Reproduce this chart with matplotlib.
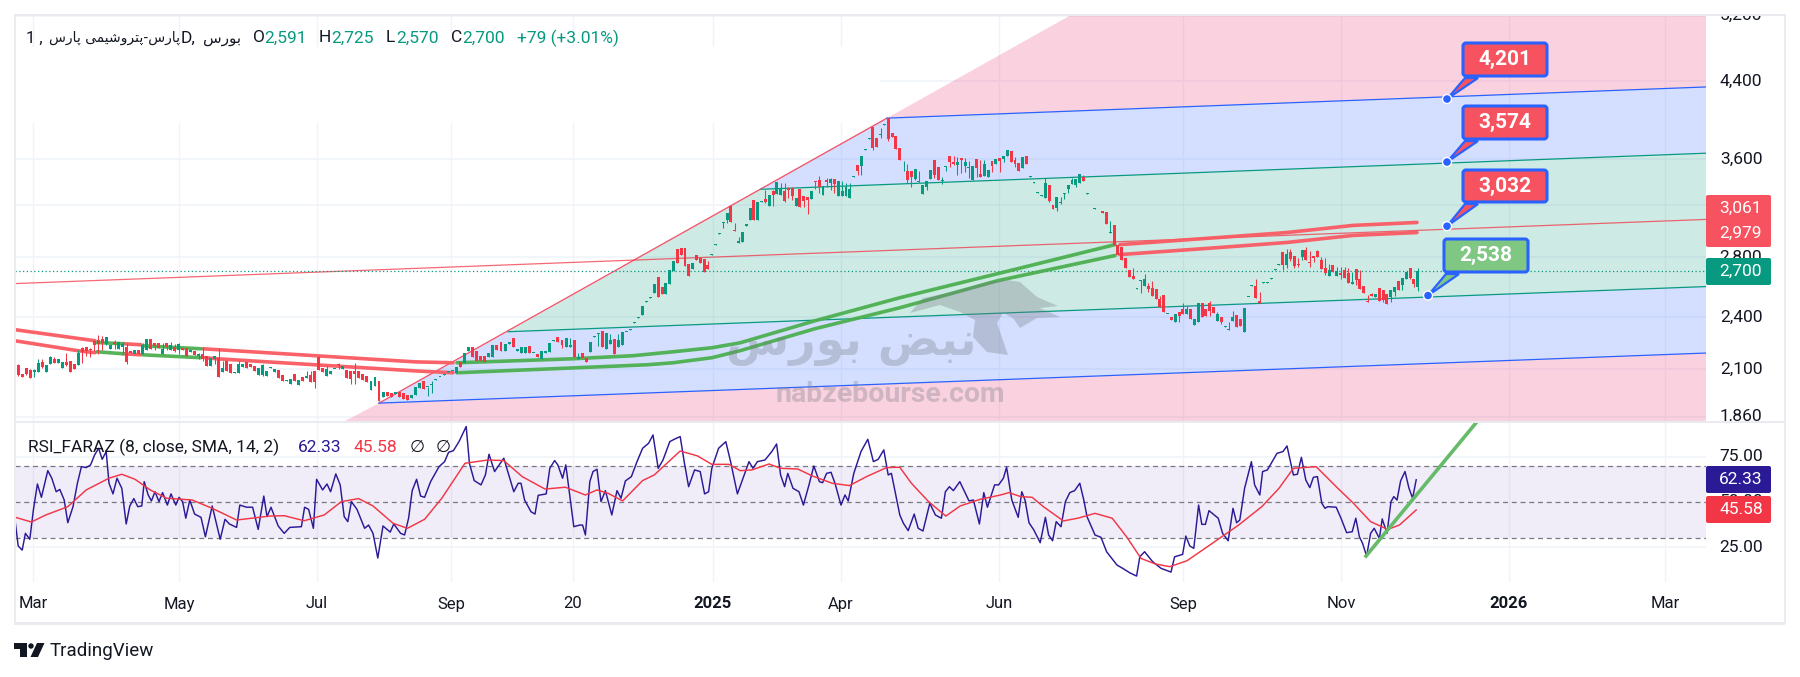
import numpy as np
import matplotlib
matplotlib.use('Agg')
import matplotlib.pyplot as plt
from matplotlib.patches import Rectangle, Polygon, Circle, FancyBboxPatch

plt.rcParams['font.family'] = ['Roboto', 'DejaVu Sans']

UP = '#089981'
DOWN = '#f23645'
TAG_RED = '#f7525f'
BLUE = '#2962ff'
GREEN = '#4caf50'
RSI_COL = '#2a1a96'
TEXT = '#131722'
GRID = '#f0f3fa'
FRAME = '#e9ebf0'

# daily candles
opens = [
    2124,2075,2109,2097,2088,2086,2140,2086,2127,2155,2136,2109,2142,2146,2127,2124,2218,2224,2215,2260,2264,2273,2242,2215,2255,2215,2227,2227,2204,2182,2209,2186,2209,2273,2246,2249,2186,2246,2209,2227,2206,2218,2218,2196,2204,2173,2182,2173,2118,2155,2164,2086,2146,2127,2080,2080,2115,2142,2127,2118,2069,2069,2066,2109,2086,2097,2069,2040,2024,2075,2020,2061,2052,2069,2092,2169,2109,2063,2075,2100,2127,2100,2095,2092,2092,2092,2075,2066,1990,2015,2040,
    1958,1980,1978,1971,1983,1975,1966,1949,1966,2004,2039,2006,2019,2045,2059,2069,2085,2090,2083,2138,2136,2199,2223,2202,2176,2176,2170,2170,2236,2251,2204,2240,2274,2202,2193,2193,2231,2189,2185,2157,2189,2198,2261,2280,2265,2227,2227,2265,2157,2189,2161,2198,2284,2300,2316,2212,2242,2270,2223,2236,2310,2324,2366,2397,2417,2498,2525,2557,2664,2596,2548,2615,2703,2858,2865,2865,2752,2715,2814,2797,2785,2745,2818,2892,2975,3060,3081,3196,2998,2902,
    2910,3030,3081,3242,3081,3229,3248,3193,3318,3293,3284,3318,3342,3342,3193,3332,3276,3265,3251,3405,3413,3284,3413,3385,3418,3278,3276,3276,3262,3443,3548,3538,3690,3790,3914,3804,3835,3935,3998,3854,3820,3709,3490,3490,3496,3420,3397,3293,3350,3423,3596,3532,3405,3532,3630,3570,3548,3610,3538,3517,3413,3605,3467,3449,3443,3587,3557,3615,3600,3630,3678,3596,3563,3523,3634,3443,3390,3304,3278,3256,3370,3202,3175,3220,3293,3336,3380,3370,3390,3443,
    3294,3272,3170,3158,3156,3145,2978,3042,2890,2873,2792,2710,2669,2584,2637,2602,2602,2586,2580,2517,2542,2418,2401,2373,2432,2452,2422,2452,2354,2369,2488,2452,2492,2465,2379,2401,2344,2326,2375,2416,2389,2313,2526,2604,2602,2502,2620,2620,2650,2712,2745,2836,2743,2836,2809,2752,2802,2853,2768,2807,2846,2780,2724,2670,2745,2670,2687,2710,2692,2615,2717,2646,2602,2498,2549,2527,2586,2575,2549,2527,2562,2637,2608,2648,2721,2648,2591,
]
highs = [
    2127,2075,2109,2100,2100,2158,2158,2122,2176,2169,2158,2142,2188,2146,2127,2209,2222,2224,2218,2264,2295,2286,2282,2237,2264,2255,2255,2249,2204,2206,2209,2246,2273,2273,2249,2249,2249,2246,2255,2242,2246,2218,2218,2209,2204,2191,2227,2173,2164,2176,2218,2146,2146,2127,2088,2146,2127,2142,2127,2118,2106,2127,2092,2115,2100,2097,2069,2044,2049,2075,2044,2061,2092,2092,2092,2173,2109,2118,2092,2104,2136,2118,2095,2092,2136,2092,2075,2066,2040,2058,2040,
    1983,1980,1978,1980,1983,1975,1966,1966,2006,2027,2039,2009,2036,2048,2062,2074,2090,2094,2115,2138,2189,2227,2223,2202,2176,2176,2189,2236,2236,2251,2242,2255,2274,2212,2223,2223,2231,2193,2185,2200,2202,2246,2265,2280,2265,2278,2278,2265,2189,2189,2161,2251,2290,2304,2316,2304,2300,2270,2300,2310,2314,2330,2370,2401,2471,2505,2531,2614,2664,2596,2619,2710,2773,2858,2865,2865,2752,2757,2814,2797,2785,2776,2823,2897,2980,3065,3140,3196,3055,2952,
    2990,3050,3175,3242,3223,3235,3327,3284,3327,3393,3385,3385,3356,3350,3256,3332,3276,3265,3318,3408,3450,3361,3428,3428,3418,3405,3405,3385,3385,3449,3548,3630,3696,3800,3914,3804,3897,3941,3998,3854,3820,3709,3587,3554,3496,3511,3496,3370,3408,3502,3596,3532,3443,3538,3630,3630,3624,3610,3610,3587,3541,3605,3596,3596,3502,3587,3600,3615,3630,3687,3678,3618,3563,3618,3634,3449,3396,3310,3284,3428,3370,3202,3265,3265,3299,3370,3428,3420,3467,3458,
    3299,3277,3175,3164,3156,3145,3072,3042,2890,2873,2792,2710,2725,2589,2642,2680,2620,2637,2580,2532,2542,2422,2401,2422,2432,2488,2473,2452,2391,2488,2488,2452,2505,2465,2436,2401,2348,2369,2440,2416,2389,2456,2530,2608,2646,2562,2626,2626,2655,2717,2750,2836,2860,2860,2809,2792,2853,2873,2848,2807,2853,2800,2792,2752,2745,2733,2728,2728,2721,2698,2717,2710,2602,2542,2557,2546,2586,2575,2549,2575,2593,2637,2653,2698,2721,2648,2725,
]
lows = [
    2066,2058,2070,2052,2058,2086,2109,2086,2127,2133,2136,2106,2118,2086,2104,2124,2136,2176,2169,2200,2182,2206,2237,2215,2213,2215,2191,2127,2191,2182,2182,2182,2206,2213,2209,2218,2186,2209,2206,2195,2182,2206,2173,2196,2178,2155,2146,2118,2118,2127,2058,2086,2092,2083,2080,2080,2115,2109,2115,2092,2069,2066,2066,2109,2086,2052,2040,2040,2024,2040,2020,2040,2052,2032,2003,2095,2086,2063,2075,2100,2100,2100,2052,2024,2024,2052,2044,2032,1990,2015,1935,
    1958,1961,1958,1971,1955,1946,1940,1949,1966,2004,1997,1963,1978,2045,2059,2069,2085,2090,2083,2115,2136,2199,2170,2146,2146,2142,2170,2170,2208,2202,2204,2240,2223,2202,2193,2193,2193,2189,2170,2157,2189,2198,2261,2255,2217,2227,2223,2166,2157,2161,2142,2198,2284,2229,2223,2212,2242,2185,2223,2236,2310,2324,2366,2397,2417,2498,2525,2557,2527,2548,2548,2615,2703,2762,2816,2738,2669,2715,2780,2762,2698,2717,2818,2892,2975,3015,3055,3065,2993,2902,
    2910,3030,3081,3081,3081,3229,3220,3193,3193,3293,3284,3229,3256,3240,3193,3188,3188,3129,3251,3339,3300,3284,3350,3327,3299,3278,3276,3276,3262,3443,3458,3458,3690,3790,3687,3718,3797,3935,3775,3814,3696,3596,3490,3390,3356,3413,3397,3293,3327,3423,3428,3413,3380,3496,3532,3548,3458,3473,3487,3428,3413,3443,3443,3449,3443,3487,3557,3487,3570,3630,3573,3532,3496,3523,3554,3443,3390,3304,3278,3256,3229,3170,3153,3210,3248,3299,3380,3350,3390,3408,
    3294,3272,3170,3158,3135,3050,2978,2890,2817,2780,2726,2664,2648,2584,2553,2602,2564,2532,2515,2465,2430,2418,2385,2373,2369,2422,2422,2391,2354,2369,2405,2410,2410,2426,2379,2361,2344,2326,2375,2344,2348,2313,2526,2604,2519,2487,2620,2620,2650,2712,2745,2710,2726,2773,2726,2733,2780,2780,2733,2768,2804,2717,2676,2670,2694,2670,2646,2657,2624,2615,2606,2584,2557,2494,2532,2527,2504,2498,2485,2498,2536,2575,2575,2648,2646,2593,2570,
]
closes = [
    2069,2058,2075,2056,2095,2136,2115,2122,2169,2136,2158,2140,2124,2086,2104,2191,2196,2200,2206,2237,2242,2246,2282,2237,2242,2255,2242,2142,2191,2206,2182,2237,2273,2213,2231,2218,2215,2227,2237,2200,2242,2206,2173,2209,2178,2182,2155,2118,2164,2176,2058,2109,2092,2083,2086,2127,2127,2109,2115,2092,2106,2124,2092,2115,2100,2052,2040,2044,2049,2040,2044,2040,2066,2032,2032,2095,2086,2100,2092,2104,2122,2118,2052,2049,2075,2052,2044,2032,2040,2058,1935,
    1983,1961,1958,1980,1955,1946,1940,1966,2006,2027,1997,2009,2022,2048,2062,2074,2090,2094,2115,2115,2189,2227,2170,2146,2146,2142,2189,2236,2208,2202,2242,2255,2223,2212,2223,2223,2193,2193,2170,2200,2202,2246,2265,2255,2236,2278,2233,2166,2170,2161,2142,2251,2290,2304,2223,2304,2265,2185,2265,2310,2314,2330,2370,2401,2471,2505,2531,2614,2527,2548,2619,2710,2773,2762,2816,2738,2669,2757,2780,2762,2698,2717,2823,2897,2980,3065,3140,3065,2993,2922,
    2990,3050,3175,3081,3223,3235,3229,3284,3284,3393,3332,3237,3327,3276,3256,3188,3237,3242,3318,3400,3350,3361,3400,3420,3380,3405,3318,3353,3336,3449,3493,3630,3696,3800,3709,3718,3842,3941,3792,3814,3696,3596,3496,3413,3437,3511,3405,3370,3408,3502,3458,3413,3413,3538,3570,3557,3578,3596,3570,3532,3541,3517,3443,3557,3502,3538,3600,3587,3630,3687,3573,3557,3496,3618,3554,3449,3396,3310,3284,3385,3237,3170,3265,3226,3299,3370,3413,3420,3467,3408,
    3299,3277,3175,3164,3135,3050,2983,2890,2817,2780,2726,2664,2648,2589,2642,2648,2582,2532,2515,2465,2430,2422,2385,2422,2410,2422,2452,2391,2391,2488,2405,2410,2442,2426,2422,2369,2348,2330,2401,2344,2348,2456,2530,2608,2519,2487,2626,2626,2655,2717,2750,2743,2824,2787,2738,2748,2853,2780,2762,2797,2804,2717,2687,2710,2698,2703,2676,2657,2624,2628,2642,2584,2557,2494,2532,2546,2504,2511,2485,2575,2593,2575,2653,2698,2653,2615,2700,
]

# where some candles sit on the bar axis, the rest fall in between
anchor_rows = [0, 90, 138, 159, 180, 219, 250, 270, 312, 357]
anchor_bars = [0.33, 90.5, 139.3, 160.3, 180.4, 217.8, 247.6, 266.6, 306.8, 350.2]

# thick moving averages: (bars, prices) per coloured stretch
upper_red = [([-0.5,19.5], [2325,2260]), ([26.5,31], [2243,2237]),
             ([46.5,99.5,109], [2214,2141,2136]),
             ([275.75,300.75,317.5,334,350], [2892,2946,2983,3038,3061])]
upper_green = [([19.5,26.5], [2250,2243]), ([31.5,46], [2231,2214]),
               ([110,139,154,164,173.75,180.75,199.5,220.75,245.25,274.5],
                [2136,2158,2175,2197,2220,2248,2379,2524,2685,2892])]
lower_red = [([-0.5,15.25,19.5], [2260,2203,2192]), ([26.5,31], [2186,2180]),
             ([47,50,99.5,109], [2164,2158,2092,2082]),
             ([275.75,300.75,317.5,334,350], [2819,2871,2908,2961,2983])]
lower_green = [([20,26.5], [2197,2186]), ([31.5,46], [2180,2164]),
               ([110,139,157.5,164,173.75,180.75,199.5,220.75,245.25,274.5],
                [2082,2108,2125,2136,2164,2203,2331,2460,2637,2812])]

# pitchfork lines
fork_bars_end = 422.25
fork_top = ([217.5, fork_bars_end], [4000, 4333])
fork_upper = ([186, fork_bars_end], [3333, 3656])
fork_median = ([-0.5, fork_bars_end], [2617, 3085])
fork_lower = ([122.75, fork_bars_end], [2313, 2597])
fork_bottom = ([90.5, fork_bars_end], [1926, 2190])
fork_edge = ([81.5, 263.5], [1835, 5211])

price_ticks = [5200, 4400, 3600, 3200, 2800, 2400, 2100, 1860]
callout_bars = [357.5, 357.5, 357.5, 352.75]
callout_prices = [4201, 3574, 3032, 2538]

date_bars = [4, 40.5, 75, 108.5, 139, 174, 206, 245.5, 291.5, 331, 373, 412]
date_labels = ['Mar', 'May', 'Jul', 'Sep', '20', '2025', 'Apr', 'Jun', 'Sep', 'Nov', '2026', 'Mar']

rsi_bars = [-0.4,0.3,1.3,2.1,3.2,4.1,5.1,6.1,7.7,8.7,9.8,10.7,11.8,12.7,14,15.1,16.1,17.3,18.4,19.4,20.4,21.3,22.3,23,24,25,26.2,27.3,28.2,29.2,30.2,31.2,31.8,32.8,33.6,34.5,35.5,36.4,37.6,38.5,39.7,40.5,41.4,42.2,43.2,44.4,46,47.1,48.8,50.8,52,53.1,54.9,55.7,57.4,58.9,60.3,61.7,62.5,63.5,65.3,66.8,68.2,71.1,71.9,72.9,74.1,74.9,76.4,77.5,78.4,79.7,80.8,81.8,82.7,83.6,85,86.9,87.9,89,90.2,91.5,93.3,94.2,95.9,96.9,97.9,98.8,99.9,100.9,101.9,103.4,105.5,106.9,107.9,109.1,110.5,112.3,113.1,114.3,116,117.1,118,119.4,121.7,123.2,124.2,125.3,126,126.9,128.5,129.5,130.3,132.3,133.2,134.4,135.2,136.4,137.2,139.2,140.7,141.4,142.1,143.2,144,145,146,147.1,148.7,150,151,152.1,153.6,155,156.4,157.9,159,160.3,161.5,163.2,164.3,165.8,166.8,167.9,169.4,170.8,171.9,172.9,173.7,175.4,177.2,178.4,180.1,181.5,183,184,185.1,187,188.7,189.9,190.9,191.9,192.7,194,195.5,196.6,198,199.2,200.6,201.4,202.4,203.5,204.5,206,207,207.8,209.2,211,212.7,214.1,215.3,216.7,217.8,218.6,220.7,
            221.6,222.8,224.3,225.3,226.5,228.2,229.6,231.1,232.1,233.1,234.1,235.7,238,239.1,240.6,241.7,242.6,244.4,245.4,246.6,247.4,248.7,250.3,251.2,252,253,254.2,255.8,257.1,257.9,258.9,259.8,261,262.1,263.2,264.4,265.7,266.7,267.5,269.5,271,272.4,275,276.4,278.2,279.9,280.7,281.9,283.9,286,288.5,289.4,291.4,292.2,293.2,294.2,295.4,296.2,297.1,298,300.3,301.4,302.8,304,304.9,305.7,306.9,308.6,309.4,310.7,311.4,312.6,315,316.5,317.5,319.1,320.1,321.1,322.2,323.2,324.1,325.1,326.2,327,327.7,329.8,331,332.4,333.8,334.7,335.6,336.4,337.4,338.4,339.3,340.6,341.3,342.5,343.5,344.2,345,345.9,347,348,348.9,349.8]
rsi_vals = [38.2,25.6,23.3,32.6,29.3,45.6,60,52.6,67.4,63.2,55.7,57,51.1,38.5,47.4,60.4,69.6,69.1,70.6,76.1,79.8,73.7,78,60.4,54.5,63.2,57.6,37.8,47.8,51.9,47.4,47.8,61.3,53.9,50.6,55.7,50.2,55.2,48.3,54.5,48.3,52.6,50.2,41,51.1,43.3,41.5,30.7,47.8,29.3,40.4,37.8,35.9,48.3,47.1,47.1,34.8,53.3,41.9,47.1,36.7,32.6,35.9,36.3,47.1,45.9,35.4,62.6,56.7,60,55.7,65.6,59.5,41.9,39.1,50.2,45.9,35.4,37.2,32.6,18.9,36.7,33.3,37.8,32.6,31.7,41,56.3,62.6,53.3,52.6,61.3,69.6,72.4,77.6,78.5,83.5,91.9,71.5,61.9,59.5,65,76.5,66.9,74.3,63.2,55.7,60.4,60.4,51.1,44.6,43.3,53.7,54.5,68.7,73,70.6,63.2,70.6,36.3,37.2,37.2,31.7,61.3,66.9,68.2,50.2,56.3,42.8,56.3,52.1,61.7,64.1,72.4,79.8,82.6,87.2,68.7,73.3,83.5,84.8,86.3,72.4,58.5,67.8,66.9,54.5,55.7,68.7,79.8,83.5,72.4,54.5,63.2,72.4,68.7,72.4,73.3,78,82.2,65,58.5,65.9,57.6,55.7,48.3,59.5,70,61.3,60.7,65.9,66.5,60.4,48.3,53.9,50.6,65.9,78,84.8,72.4,73.7,78.9,65,65.9,42.8,
            38.2,34.1,43.3,35.4,33.9,49.3,42.8,41,55.7,58.5,56.3,61.3,50.6,51.1,37.8,55.2,47.1,59.5,59.5,63.2,69.3,51.1,41.5,55.7,51.1,38.5,34.5,27.4,41.5,31.7,28.5,39.1,36.3,50.2,55.2,56.3,60.4,51.1,41.9,31.7,30.4,22.4,15,13.2,10.7,8.9,19.6,22.4,16.9,13.2,11.1,19.6,20.9,31.1,25.6,24.3,48.3,37.6,37.6,45.2,41,32.6,28.5,46.5,38.5,40,57.6,72.4,59.5,53.9,66.9,67.8,77,78,81.1,65,65.4,74.8,62.2,58,63.7,64.1,49.3,46.5,47.4,47.1,41,33,33.5,41,30.7,27,20,32.6,35.4,29.8,40.6,32.6,50.2,53,51.1,61.7,66.9,57.6,52.1,62.33]

signal_bars = [-0.4,3.6,7.2,12.7,17.3,23,26.2,29.5,33.3,37.4,43.8,48.8,54.9,63.2,66.8,71.8,76.8,81.1,85.4,89,94,97.6,101.9,106.2,112,117.7,121.7,126.3,132,137.1,142.1,145,147.8,151.4,156.4,159.3,165.8,170.1,173.7,178,180.8,183.7,188,190.9,195.2,198.8,203.8,208.1,212.4,217.4,220.7,
               223.6,227.9,232.2,235.8,240.8,245.9,248,250.9,253.8,256.6,261.6,265.2,269.5,273.8,277.4,281,284.6,288.2,292.5,298.2,305.4,311.2,315.5,319.1,324.8,329.8,334.1,338.4,342.7,345.6,349.8]
signal_vals = [41.5,38.9,42.8,47.4,56.7,63.2,65.4,62.6,56.7,52.1,51.1,46.5,40,42.2,42.4,39.6,42.8,50.2,51.9,47.8,38.2,35.4,40.4,52.1,71.5,73.3,73,64.1,57.2,58.2,53.9,56.7,54.8,50.6,61.9,65,78.3,75.6,70.9,70.9,67.4,67.8,71.1,68.7,68.3,64.5,60.4,59.1,64.1,69.1,69.3,
               60.4,50.2,42.2,47.8,51.5,53.9,55.2,53,52.6,47.4,39.5,41,43.7,41,30.7,18.7,15.6,14.1,17.4,26.1,37.2,47.4,57.6,68.7,69.6,58.5,49.3,39.1,34.8,37.2,45.58]

trend_bars = [337.25, 364.75]
trend_vals = [20, 93.9]

W, H = 1800, 677
fig = plt.figure(figsize=(W / 100, H / 100), dpi=100, facecolor='white')


def pane(x0, y0, x1, y1):
    return fig.add_axes([x0 / W, 1 - y1 / H, (x1 - x0) / W, (y1 - y0) / H])


ax = pane(15, 15, 1706, 422)
rsi = pane(15, 422, 1706, 582)
over = fig.add_axes([0, 0, 1, 1], zorder=10)
over.set_xlim(0, W)
over.set_ylim(H, 0)
over.axis('off')
over.patch.set_alpha(0)

for a in (ax, rsi):
    a.set_xlim(-0.5, fork_bars_end)
    a.set_xticks([])
    a.set_yticks([])
    a.minorticks_off()
    for s in a.spines.values():
        s.set_visible(False)
    for b in date_bars:
        a.axvline(b, color=GRID, lw=1, zorder=0)

ax.set_yscale('log')
ax.set_ylim(1835, 5211)
ax.set_xticks([])
ax.set_yticks([])
ax.minorticks_off()
for p in price_ticks:
    ax.axhline(p, color=GRID, lw=1.2, zorder=0)

# blank patch left behind the legend
over_white = Rectangle((15, 47), 865, 76, color='white', lw=0, zorder=1,
                       transform=over.transData)
ax.add_patch(over_white)

# fork bands
ax.fill([fork_top[0][0], fork_top[0][1], fork_upper[0][1], fork_upper[0][0]],
        [fork_top[1][0], fork_top[1][1], fork_upper[1][1], fork_upper[1][0]],
        color=BLUE, alpha=0.2, lw=0, zorder=2)
ax.fill([fork_upper[0][0], fork_upper[0][1], fork_lower[0][1], fork_lower[0][0]],
        [fork_upper[1][0], fork_upper[1][1], fork_lower[1][1], fork_lower[1][0]],
        color=UP, alpha=0.2, lw=0, zorder=2)
ax.fill([fork_lower[0][0], fork_lower[0][1], fork_bottom[0][1], fork_bottom[0][0]],
        [fork_lower[1][0], fork_lower[1][1], fork_bottom[1][1], fork_bottom[1][0]],
        color=BLUE, alpha=0.2, lw=0, zorder=2)
ax.fill([fork_top[0][0], fork_edge[0][1], fork_bars_end, fork_bars_end],
        [fork_top[1][0], fork_edge[1][1], fork_edge[1][1], fork_top[1][1]],
        color='#e91e63', alpha=0.2, lw=0, zorder=2)
ax.fill([fork_bottom[0][0], fork_edge[0][0], fork_bars_end, fork_bars_end],
        [fork_bottom[1][0], fork_edge[1][0], fork_edge[1][0], fork_bottom[1][1]],
        color='#e91e63', alpha=0.2, lw=0, zorder=2)

# the edge only shows up to the upper anchor, pink meets white above it
ax.plot([fork_bottom[0][0], fork_top[0][0]], [fork_bottom[1][0], fork_top[1][0]],
        color='#ef5a6f', lw=1, zorder=3)
ax.plot(*fork_median, color=DOWN, lw=0.9, alpha=0.75, zorder=3)
for line, col in ((fork_top, BLUE), (fork_bottom, BLUE), (fork_upper, UP), (fork_lower, UP)):
    ax.plot(*line, color=col, lw=0.9, zorder=3)

ax.axhline(closes[-1], color=UP, lw=0.9, ls=(0, (1, 2)), zorder=3)

for chunk in upper_red + lower_red:
    ax.plot(*chunk, color='#fa5a62', lw=2.6, alpha=0.95, solid_capstyle='round', zorder=4)
for chunk in upper_green + lower_green:
    ax.plot(*chunk, color=GREEN, lw=2.6, alpha=0.95, solid_capstyle='round', zorder=4)

# candles
o = np.array(opens)
h = np.array(highs)
l = np.array(lows)
c = np.array(closes)
bars = np.interp(np.arange(len(c)), anchor_rows, anchor_bars)
cols = np.where(c >= o, UP, DOWN)
ax.vlines(bars, l, h, colors=cols, lw=0.75, zorder=5)
ax.bar(bars, np.maximum(np.abs(c - o), 6), bottom=np.minimum(o, c), width=0.74,
       color=cols, lw=0, zorder=5)

ax.set_xlim(-0.5, fork_bars_end)
ax.set_ylim(1835, 5211)

# rsi pane
rsi.set_ylim(5.6, 94.4)
rsi.axhspan(30, 70, color='#7e57c2', alpha=0.11, lw=0, zorder=1)
for v in (75, 25):
    rsi.axhline(v, color=GRID, lw=1.2, zorder=0)
for v in (70, 50, 30):
    rsi.axhline(v, color='#787b86', lw=0.9, ls=(0, (4, 3)), zorder=2)
rsi.plot(rsi_bars, rsi_vals, color=RSI_COL, lw=1.05, zorder=3)
rsi.plot(signal_bars, signal_vals, color=DOWN, lw=1.05, zorder=4)
rsi.plot(trend_bars, trend_vals, color='#66bb6a', lw=2.6, zorder=5)

for b, lab in zip(date_bars, date_labels):
    bold = lab in ('2025', '2026')
    rsi.text(b, -0.1375, lab, transform=rsi.get_xaxis_transform(), ha='center', va='center',
             fontsize=12, color=TEXT, fontweight='bold' if bold else 'normal')

for p in price_ticks:
    ax.text(1.0207, p, f'{p:,}', transform=ax.get_yaxis_transform(), ha='center', va='center',
            fontsize=12.5, color=TEXT, zorder=1)
for v in (75, 50, 25):
    rsi.text(1.0207, v, f'{v:.2f}', transform=rsi.get_yaxis_transform(), ha='center', va='center',
             fontsize=12.5, color=TEXT, zorder=1)

# watermark
wm = '#787b86'
bull = [(910, 313), (923, 298), (953, 292), (987, 282), (1007, 280), (1020, 282), (1037, 297),
        (1058, 306), (1040, 308), (1060, 317), (1037, 318), (1020, 328), (1013, 318), (1003, 313),
        (997, 323), (1008, 355), (987, 352), (973, 337), (975, 320), (960, 312), (940, 305)]
over.add_patch(Polygon(bull, closed=True, fc=wm, ec='none', alpha=0.33, zorder=1))
over.text(851, 344, '\uFEB1\uFEAD\uFEEE\uFE91 \uFEBE\uFE92\uFEE7', family='DejaVu Sans',
          fontsize=33, fontweight='bold', color=wm, alpha=0.33, ha='center', va='center', zorder=1)
over.text(890, 395, 'nabzebourse.com', fontsize=20.5, fontweight='bold', color=wm, alpha=0.33,
          ha='center', va='center', zorder=1)


def to_px(a, x, y):
    px, py = a.transData.transform((x, y))
    return px, H - py


# price callouts
boxes = [(1461, 41, 1549, 78, TAG_RED), (1461, 104, 1549, 141, TAG_RED),
         (1461, 168, 1549, 204, TAG_RED), (1442, 237, 1530, 274, '#81c784')]
for bar, price, (x0, y0, x1, y1, fc) in zip(callout_bars, callout_prices, boxes):
    ax_x, ax_y = to_px(ax, bar, price)
    over.add_patch(Polygon([(ax_x, ax_y), (x0 + 4, y1), (x0 + 17, y1)], closed=True,
                           fc=fc, ec=BLUE, lw=1.6, zorder=3))
    over.add_patch(FancyBboxPatch((x0 + 2, y0 + 2), x1 - x0 - 4, y1 - y0 - 4,
                                  boxstyle='round,pad=0,rounding_size=3', fc=fc, ec=BLUE,
                                  lw=2.2, zorder=4))
    over.text((x0 + x1) / 2, (y0 + y1) / 2, f'{price:,}', color='white', fontsize=15,
              fontweight='bold', ha='center', va='center', zorder=5)
    over.add_patch(Circle((ax_x, ax_y), 4.5, fc=BLUE, ec='white', lw=1, zorder=6))


def tag(y0, y1, fc, label, yt=None):
    over.add_patch(FancyBboxPatch((1706, y0), 65, y1 - y0, boxstyle='round,pad=0,rounding_size=2',
                                  fc=fc, ec='none', zorder=4))
    if label:
        over.text(1741, yt if yt else (y0 + y1) / 2, label, color='white', fontsize=12.5,
                  ha='center', va='center', zorder=5)


tag(195, 247, TAG_RED, '')
over.text(1741, 208, '3,061', color='white', fontsize=12.5, ha='center', va='center', zorder=5)
over.text(1741, 233, '2,979', color='white', fontsize=12.5, ha='center', va='center', zorder=5)
tag(258, 285, UP, '2,700')
tag(466, 493, RSI_COL, '62.33')
tag(496, 523, '#f23645', '45.58')

# legend rows
over.text(26, 38, '1 ,', fontsize=12, color=TEXT, va='center', ha='left', zorder=6)
over.text(180, 38, '\uFEB1\uFEAD\uFE8E\uFB58 \uFBFD\uFEE4\uFBFF\uFEB7\uFEED\uFEAE\uFE98\uFB58-\uFEB1\uFEAD\uFE8E\uFB58',
          family='DejaVu Sans', fontsize=10, color=TEXT, va='center', ha='right', zorder=6)
over.text(181, 38, 'D,', fontsize=12.5, color=TEXT, va='center', ha='left', zorder=6)
over.text(241, 38, '\uFEB1\uFEAD\uFEEE\uFE91', family='DejaVu Sans', fontsize=11, color=TEXT,
          va='center', ha='right', zorder=6)
for x, lab in ((253, 'O'), (319, 'H'), (386, 'L'), (451, 'C')):
    over.text(x, 38, lab, fontsize=12.5, color=TEXT, va='center', ha='left', zorder=6)
for x, lab in ((264, '2,591'), (331, '2,725'), (396, '2,570'), (462, '2,700'), (517, '+79 (+3.01%)')):
    over.text(x, 38, lab, fontsize=12.5, color=UP, va='center', ha='left', zorder=6)

over.text(28, 447, 'RSI_FARAZ (8, close, SMA, 14, 2)', fontsize=12.5, color=TEXT, va='center', zorder=6)
over.text(298, 447, '62.33', fontsize=12.5, color=RSI_COL, va='center', zorder=6)
over.text(353, 447, '45.58', fontsize=12.5, color=DOWN, va='center', zorder=6)
over.text(410, 447, '\u2205', fontsize=12.5, color=TEXT, va='center', zorder=6)
over.text(436, 447, '\u2205', fontsize=12.5, color=TEXT, va='center', zorder=6)

# outer frame and logo
over.add_patch(Rectangle((0, 0), W, 14.5, fc='white', ec='none', zorder=7))
over.add_patch(Rectangle((14, 14), 1771, 2, fc=FRAME, ec='none', zorder=8))
over.add_patch(Rectangle((14, 421), 1771, 2, fc=FRAME, ec='none', zorder=8))
over.add_patch(Rectangle((14, 622), 1771, 2.5, fc=FRAME, ec='none', zorder=8))
over.add_patch(Rectangle((13.5, 14), 2, 610, fc=FRAME, ec='none', zorder=8))
over.add_patch(Rectangle((1784, 14), 2, 610, fc=FRAME, ec='none', zorder=8))

logo = dict(fc=TEXT, ec='none', zorder=8)
over.add_patch(Polygon([(14, 643), (27, 643), (27, 657), (20, 657), (20, 649), (14, 649)], closed=True, **logo))
over.add_patch(Circle((31, 646), 2.7, **logo))
over.add_patch(Polygon([(37, 643), (44.5, 643), (38, 657), (30.5, 657)], closed=True, **logo))
over.text(50, 651, 'TradingView', fontsize=13.5, color=TEXT, va='center', ha='left', zorder=8)

fig.savefig('out.png', dpi=100, facecolor='white')
